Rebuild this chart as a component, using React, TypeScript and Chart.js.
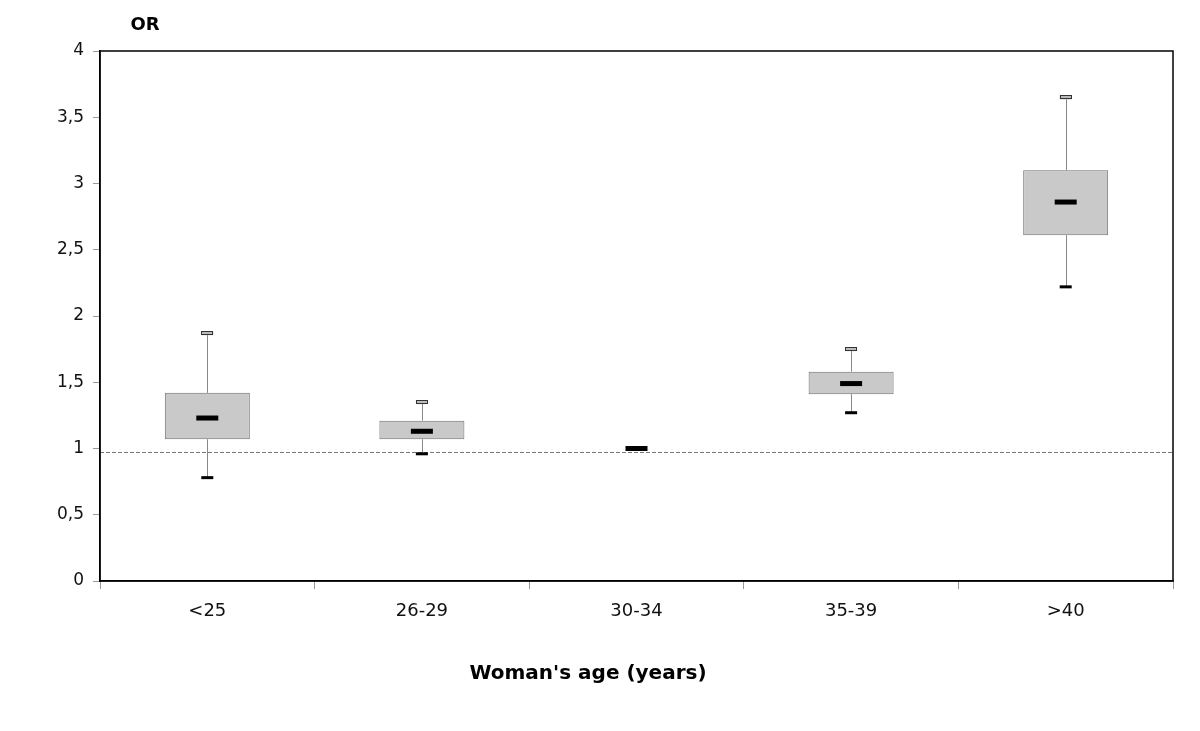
import React, { useEffect, useRef } from "react";
import { Chart, registerables } from "chart.js";

Chart.register(...registerables);

const categories = ["<25", "26-29", "30-34", "35-39", ">40"];
const whiskerHigh: (number | null)[] = [1.87, 1.35, null, 1.75, 3.65];
const boxHigh: (number | null)[] = [1.42, 1.21, null, 1.58, 3.1];
const medians: number[] = [1.23, 1.13, 1.0, 1.49, 2.86];
const boxLow: (number | null)[] = [1.07, 1.07, null, 1.41, 2.61];
const whiskerLow: (number | null)[] = [0.78, 0.96, null, 1.27, 2.22];
const referenceLine = 0.975;
const yAxisLabel = "OR";
const xAxisLabel = "Woman's age (years)";

const FONT = "'DejaVu Sans', Verdana, sans-serif";

const boxPlotPlugin = {
  id: "boxPlotExtras",
  beforeDatasetsDraw(chart: any) {
    const { ctx, chartArea, scales } = chart;
    const y = scales.y.getPixelForValue(referenceLine);
    ctx.save();
    ctx.strokeStyle = "#777";
    ctx.lineWidth = 1;
    ctx.setLineDash([4, 2]);
    ctx.beginPath();
    ctx.moveTo(chartArea.left, Math.round(y) + 0.5);
    ctx.lineTo(chartArea.right, Math.round(y) + 0.5);
    ctx.stroke();
    ctx.restore();
  },
  afterDatasetsDraw(chart: any) {
    const { ctx, scales } = chart;
    const xs = scales.x;
    const ys = scales.y;
    ctx.save();
    categories.forEach((_, i) => {
      const x = xs.getPixelForValue(i);
      const wh = whiskerHigh[i];
      const wl = whiskerLow[i];
      const bh = boxHigh[i];
      const bl = boxLow[i];
      ctx.strokeStyle = "#888";
      ctx.lineWidth = 1;
      if (wh != null && bh != null) {
        ctx.beginPath();
        ctx.moveTo(Math.round(x) + 0.5, ys.getPixelForValue(wh));
        ctx.lineTo(Math.round(x) + 0.5, ys.getPixelForValue(bh));
        ctx.stroke();
        const yy = ys.getPixelForValue(wh);
        ctx.fillStyle = "#bbb";
        ctx.fillRect(x - 6, yy - 2, 12, 4);
        ctx.strokeStyle = "#333";
        ctx.lineWidth = 1;
        ctx.strokeRect(Math.round(x - 6) + 0.5, Math.round(yy - 2) + 0.5, 11, 3);
      }
      if (wl != null && bl != null) {
        ctx.strokeStyle = "#888";
        ctx.beginPath();
        ctx.moveTo(Math.round(x) + 0.5, ys.getPixelForValue(bl));
        ctx.lineTo(Math.round(x) + 0.5, ys.getPixelForValue(wl));
        ctx.stroke();
        const yy = ys.getPixelForValue(wl);
        ctx.fillStyle = "#000";
        ctx.fillRect(x - 6, yy - 1.5, 12, 3);
      }
      const ym = ys.getPixelForValue(medians[i]);
      ctx.fillStyle = "#000";
      ctx.fillRect(x - 11, ym - 2.5, 22, 5);
    });
    ctx.restore();
  },
  afterDraw(chart: any) {
    const { ctx, chartArea } = chart;
    ctx.save();
    ctx.strokeStyle = "#000";
    ctx.lineWidth = 1.5;
    ctx.strokeRect(chartArea.left, chartArea.top, chartArea.right - chartArea.left, chartArea.bottom - chartArea.top);
    ctx.fillStyle = "#000";
    ctx.font = `bold 18px ${FONT}`;
    ctx.textAlign = "center";
    ctx.textBaseline = "middle";
    ctx.fillText(yAxisLabel, chartArea.left + 45, 25);
    ctx.font = `bold 20px ${FONT}`;
    ctx.fillText(xAxisLabel, 588, 674);
    ctx.restore();
  },
};

export default function App() {
  const ref = useRef<HTMLCanvasElement | null>(null);
  useEffect(() => {
    if (!ref.current) return;
    const chart = new Chart(ref.current, {
      type: "bar",
      data: {
        labels: categories,
        datasets: [
          {
            data: categories.map((_, i) =>
              boxLow[i] != null && boxHigh[i] != null ? [boxLow[i] as number, boxHigh[i] as number] : null
            ) as any,
            backgroundColor: "#c9c9c9",
            borderColor: "#6e6e6e",
            borderWidth: 1,
            borderSkipped: false,
            categoryPercentage: 1,
            barPercentage: 0.396,
          },
        ],
      },
      options: {
        animation: false,
        responsive: true,
        maintainAspectRatio: false,
        layout: { padding: { top: 51, right: 27, bottom: 0, left: 0 } },
        plugins: {
          legend: { display: false },
          tooltip: { enabled: false },
          title: { display: false },
        },
        scales: {
          x: {
            grid: { display: true, drawOnChartArea: false, drawTicks: true, tickLength: 8, color: "#999", offset: true },
            border: { display: true, color: "#000", width: 1.5 },
            ticks: { color: "#111", font: { family: FONT, size: 18 }, padding: 12 },
            afterFit: (s: any) => {
              s.height = 150;
            },
          },
          y: {
            min: 0,
            max: 4,
            grid: { display: true, drawOnChartArea: false, drawTicks: true, tickLength: 7, color: "#999" },
            border: { display: true, color: "#000", width: 1.5 },
            ticks: {
              stepSize: 0.5,
              color: "#111",
              font: { family: FONT, size: 17 },
              padding: 9,
              callback: (v: any) => String(Number(v)).replace(".", ","),
            },
            afterFit: (s: any) => {
              s.width = 100;
            },
          },
        },
      },
      plugins: [boxPlotPlugin],
    });
    return () => chart.destroy();
  }, []);
  return (
    <div style={{ position: "fixed", left: 0, top: 0, width: 1200, height: 731, background: "#fff" }}>
      <canvas ref={ref} />
    </div>
  );
}
